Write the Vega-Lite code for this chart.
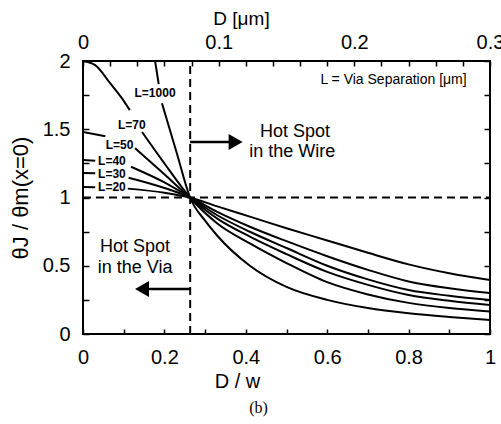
{
  "$schema": "https://vega.github.io/schema/vega-lite/v6.json",
  "width": 407,
  "height": 273,
  "autosize": {"type": "none"},
  "padding": {"left": 83, "top": 61, "right": 11, "bottom": 90},
  "background": "white",
  "config": {
    "font": "Liberation Sans",
    "view": {"stroke": "black", "strokeWidth": 2},
    "axis": {
      "domain": false,
      "grid": false,
      "tickColor": "black",
      "tickWidth": 1.5,
      "labelColor": "black",
      "titleColor": "black",
      "labelFont": "Liberation Sans",
      "titleFont": "Liberation Sans",
      "titleFontWeight": "normal"
    }
  },
  "title": {
    "text": "(b)",
    "orient": "bottom",
    "font": "Liberation Serif",
    "fontSize": 16,
    "fontWeight": "normal",
    "color": "black",
    "dx": -28,
    "offset": 9
  },
  "datasets": {
    "curves": [
      {"s": "L=20", "p": 1, "x": 0, "y": 1.077},
      {"s": "L=20", "p": 1, "x": 0.03, "y": 1.075},
      {"s": "L=20", "p": 2, "x": 0.11, "y": 1.065},
      {"s": "L=20", "p": 2, "x": 0.2, "y": 1.035},
      {"s": "L=20", "p": 2, "x": 0.263, "y": 1.0},
      {"s": "L=20", "p": 2, "x": 0.33, "y": 0.935},
      {"s": "L=20", "p": 2, "x": 0.41, "y": 0.86},
      {"s": "L=20", "p": 2, "x": 0.5, "y": 0.775},
      {"s": "L=20", "p": 2, "x": 0.6, "y": 0.685},
      {"s": "L=20", "p": 2, "x": 0.7, "y": 0.595},
      {"s": "L=20", "p": 2, "x": 0.8, "y": 0.51},
      {"s": "L=20", "p": 2, "x": 0.9, "y": 0.445},
      {"s": "L=20", "p": 2, "x": 1.0, "y": 0.396},
      {"s": "L=30", "p": 1, "x": 0, "y": 1.18},
      {"s": "L=30", "p": 1, "x": 0.03, "y": 1.178},
      {"s": "L=30", "p": 2, "x": 0.112, "y": 1.145},
      {"s": "L=30", "p": 2, "x": 0.2, "y": 1.07},
      {"s": "L=30", "p": 2, "x": 0.263, "y": 1.0},
      {"s": "L=30", "p": 2, "x": 0.33, "y": 0.895},
      {"s": "L=30", "p": 2, "x": 0.41, "y": 0.786},
      {"s": "L=30", "p": 2, "x": 0.5, "y": 0.68},
      {"s": "L=30", "p": 2, "x": 0.6, "y": 0.57},
      {"s": "L=30", "p": 2, "x": 0.7, "y": 0.47},
      {"s": "L=30", "p": 2, "x": 0.8, "y": 0.385},
      {"s": "L=30", "p": 2, "x": 0.9, "y": 0.335},
      {"s": "L=30", "p": 2, "x": 1.0, "y": 0.3},
      {"s": "L=40", "p": 1, "x": 0, "y": 1.275},
      {"s": "L=40", "p": 1, "x": 0.03, "y": 1.27},
      {"s": "L=40", "p": 2, "x": 0.118, "y": 1.225},
      {"s": "L=40", "p": 2, "x": 0.2, "y": 1.11},
      {"s": "L=40", "p": 2, "x": 0.263, "y": 1.0},
      {"s": "L=40", "p": 2, "x": 0.33, "y": 0.87},
      {"s": "L=40", "p": 2, "x": 0.41, "y": 0.749},
      {"s": "L=40", "p": 2, "x": 0.5, "y": 0.63},
      {"s": "L=40", "p": 2, "x": 0.6, "y": 0.5},
      {"s": "L=40", "p": 2, "x": 0.7, "y": 0.4},
      {"s": "L=40", "p": 2, "x": 0.8, "y": 0.322},
      {"s": "L=40", "p": 2, "x": 0.9, "y": 0.28},
      {"s": "L=40", "p": 2, "x": 1.0, "y": 0.249},
      {"s": "L=50", "p": 1, "x": 0, "y": 1.48},
      {"s": "L=50", "p": 1, "x": 0.055, "y": 1.448},
      {"s": "L=50", "p": 2, "x": 0.128, "y": 1.36},
      {"s": "L=50", "p": 2, "x": 0.2, "y": 1.17},
      {"s": "L=50", "p": 2, "x": 0.263, "y": 1.0},
      {"s": "L=50", "p": 2, "x": 0.33, "y": 0.845},
      {"s": "L=50", "p": 2, "x": 0.41, "y": 0.713},
      {"s": "L=50", "p": 2, "x": 0.5, "y": 0.585},
      {"s": "L=50", "p": 2, "x": 0.6, "y": 0.455},
      {"s": "L=50", "p": 2, "x": 0.7, "y": 0.36},
      {"s": "L=50", "p": 2, "x": 0.8, "y": 0.286},
      {"s": "L=50", "p": 2, "x": 0.9, "y": 0.243},
      {"s": "L=50", "p": 2, "x": 1.0, "y": 0.212},
      {"s": "L=70", "p": 1, "x": 0, "y": 2.0},
      {"s": "L=70", "p": 1, "x": 0.03, "y": 1.97},
      {"s": "L=70", "p": 1, "x": 0.066, "y": 1.84},
      {"s": "L=70", "p": 1, "x": 0.095, "y": 1.73},
      {"s": "L=70", "p": 1, "x": 0.115, "y": 1.64},
      {"s": "L=70", "p": 2, "x": 0.145, "y": 1.48},
      {"s": "L=70", "p": 2, "x": 0.2, "y": 1.25},
      {"s": "L=70", "p": 2, "x": 0.263, "y": 1.0},
      {"s": "L=70", "p": 2, "x": 0.33, "y": 0.81},
      {"s": "L=70", "p": 2, "x": 0.41, "y": 0.664},
      {"s": "L=70", "p": 2, "x": 0.5, "y": 0.52},
      {"s": "L=70", "p": 2, "x": 0.6, "y": 0.38},
      {"s": "L=70", "p": 2, "x": 0.7, "y": 0.29},
      {"s": "L=70", "p": 2, "x": 0.8, "y": 0.228},
      {"s": "L=70", "p": 2, "x": 0.9, "y": 0.19},
      {"s": "L=70", "p": 2, "x": 1.0, "y": 0.165},
      {"s": "L=1000", "p": 1, "x": 0.163, "y": 2.2},
      {"s": "L=1000", "p": 1, "x": 0.177, "y": 2.0},
      {"s": "L=1000", "p": 1, "x": 0.186, "y": 1.83},
      {"s": "L=1000", "p": 2, "x": 0.194, "y": 1.69},
      {"s": "L=1000", "p": 2, "x": 0.23, "y": 1.33},
      {"s": "L=1000", "p": 2, "x": 0.263, "y": 1.0},
      {"s": "L=1000", "p": 2, "x": 0.3, "y": 0.83},
      {"s": "L=1000", "p": 2, "x": 0.33, "y": 0.72},
      {"s": "L=1000", "p": 2, "x": 0.41, "y": 0.5},
      {"s": "L=1000", "p": 2, "x": 0.5, "y": 0.345},
      {"s": "L=1000", "p": 2, "x": 0.6, "y": 0.25},
      {"s": "L=1000", "p": 2, "x": 0.7, "y": 0.19},
      {"s": "L=1000", "p": 2, "x": 0.8, "y": 0.152},
      {"s": "L=1000", "p": 2, "x": 0.9, "y": 0.125},
      {"s": "L=1000", "p": 2, "x": 1.0, "y": 0.103}
    ],
    "curveLabels": [
      {"t": "L=1000", "x": 0.177, "y": 1.766},
      {"t": "L=70", "x": 0.12, "y": 1.53},
      {"t": "L=50", "x": 0.09, "y": 1.385},
      {"t": "L=40", "x": 0.071, "y": 1.27},
      {"t": "L=30", "x": 0.071, "y": 1.172},
      {"t": "L=20", "x": 0.071, "y": 1.075}
    ],
    "notes": [
      {"t": "Hot Spot", "x": 0.521, "y": 1.48},
      {"t": "in the Wire", "x": 0.514, "y": 1.333},
      {"t": "Hot Spot", "x": 0.128, "y": 0.637},
      {"t": "in the Via", "x": 0.128, "y": 0.484}
    ],
    "legendNote": [
      {"t": "L = Via Separation [μm]", "x": 0.763, "y": 1.86}
    ],
    "shafts": [
      {"id": "wire", "x": 0.263, "y": 1.407},
      {"id": "wire", "x": 0.365, "y": 1.407},
      {"id": "via", "x": 0.263, "y": 0.33},
      {"id": "via", "x": 0.16, "y": 0.33}
    ],
    "heads": [
      {"dir": "right", "x": 0.375, "y": 1.407},
      {"dir": "left", "x": 0.145, "y": 0.33}
    ],
    "hLine": [
      {"x": 0, "y": 1},
      {"x": 1, "y": 1}
    ],
    "vLine": [
      {"D": 0.079, "y": 0},
      {"D": 0.079, "y": 2}
    ]
  },
  "resolve": {"scale": {"x": "independent"}, "axis": {"y": "independent"}},
  "layer": [
    {
      "encoding": {
        "x": {
          "field": "x",
          "type": "quantitative",
          "scale": {"domain": [0, 1], "nice": false, "zero": false},
          "axis": {
            "orient": "bottom",
            "title": "D / w",
            "titleFontSize": 20,
            "titleX": 154,
            "titlePadding": 4,
            "values": [0, 0.1, 0.2, 0.3, 0.4, 0.5, 0.6, 0.7, 0.8, 0.9, 1],
            "format": "~g",
            "labelExpr": "indexof([0, 0.2, 0.4, 0.6, 0.8, 1], datum.value) >= 0 ? datum.label : ''",
            "labelFontSize": 20,
            "tickSize": -5,
            "labelPadding": 18,
            "labelFlush": false,
            "labelOverlap": false
          }
        },
        "y": {
          "field": "y",
          "type": "quantitative",
          "scale": {"domain": [0, 2], "nice": false, "zero": false},
          "axis": {
            "orient": "left",
            "title": "θJ / θm(x=0)",
            "titleFontSize": 22,
            "titlePadding": 10,
            "values": [0, 0.25, 0.5, 0.75, 1, 1.25, 1.5, 1.75, 2],
            "format": "~g",
            "labelExpr": "indexof([0, 0.5, 1, 1.5, 2], datum.value) >= 0 ? datum.label : ''",
            "labelFontSize": 20,
            "tickSize": -6,
            "labelPadding": 19,
            "labelFlush": false,
            "labelOverlap": false
          }
        }
      },
      "layer": [
        {
          "data": {"name": "curves"},
          "mark": {"type": "line", "color": "black", "strokeWidth": 2, "clip": true, "interpolate": "monotone"},
          "encoding": {"detail": [{"field": "s"}, {"field": "p"}]}
        },
        {
          "data": {"name": "hLine"},
          "mark": {"type": "line", "color": "black", "strokeWidth": 2, "strokeDash": [8, 5]},
          "encoding": {}
        },
        {
          "data": {"name": "curveLabels"},
          "mark": {"type": "text", "color": "black", "fontSize": 12, "fontWeight": "bold", "align": "center", "baseline": "middle"},
          "encoding": {"text": {"field": "t"}}
        },
        {
          "data": {"name": "notes"},
          "mark": {"type": "text", "color": "black", "fontSize": 18, "align": "center", "baseline": "middle"},
          "encoding": {"text": {"field": "t"}}
        },
        {
          "data": {"name": "legendNote"},
          "mark": {"type": "text", "color": "black", "fontSize": 14, "align": "center", "baseline": "middle"},
          "encoding": {"text": {"field": "t"}}
        },
        {
          "data": {"name": "shafts"},
          "mark": {"type": "line", "color": "black", "strokeWidth": 2.5},
          "encoding": {"detail": {"field": "id"}}
        },
        {
          "data": {"name": "heads"},
          "mark": {"type": "point", "filled": true, "color": "black", "opacity": 1, "size": 260},
          "encoding": {
            "shape": {"field": "dir", "type": "nominal", "scale": {"domain": ["right", "left"], "range": ["triangle-right", "triangle-left"]}, "legend": null}
          }
        }
      ]
    },
    {
      "data": {"name": "vLine"},
      "mark": {"type": "line", "color": "black", "strokeWidth": 2, "strokeDash": [8, 5]},
      "encoding": {
        "x": {
          "field": "D",
          "type": "quantitative",
          "scale": {"domain": [0, 0.3], "nice": false, "zero": false},
          "axis": {
            "orient": "top",
            "title": "D [μm]",
            "titleFontSize": 19,
            "titleX": 158,
            "titlePadding": 4,
            "values": [0, 0.02, 0.04, 0.06, 0.08, 0.1, 0.12, 0.14, 0.16, 0.18, 0.2, 0.22, 0.24, 0.26, 0.28, 0.3],
            "format": "~g",
            "labelExpr": "indexof([0, 0.1, 0.2, 0.3], datum.value) >= 0 ? datum.label : ''",
            "labelFontSize": 20,
            "tickSize": -5,
            "labelPadding": 14,
            "labelFlush": false,
            "labelOverlap": false
          }
        },
        "y": {
          "field": "y",
          "type": "quantitative",
          "scale": {"domain": [0, 2], "nice": false, "zero": false},
          "axis": {
            "orient": "right",
            "title": null,
            "labels": false,
            "values": [0, 0.25, 0.5, 0.75, 1, 1.25, 1.5, 1.75, 2],
            "tickSize": -6
          }
        }
      }
    }
  ]
}
